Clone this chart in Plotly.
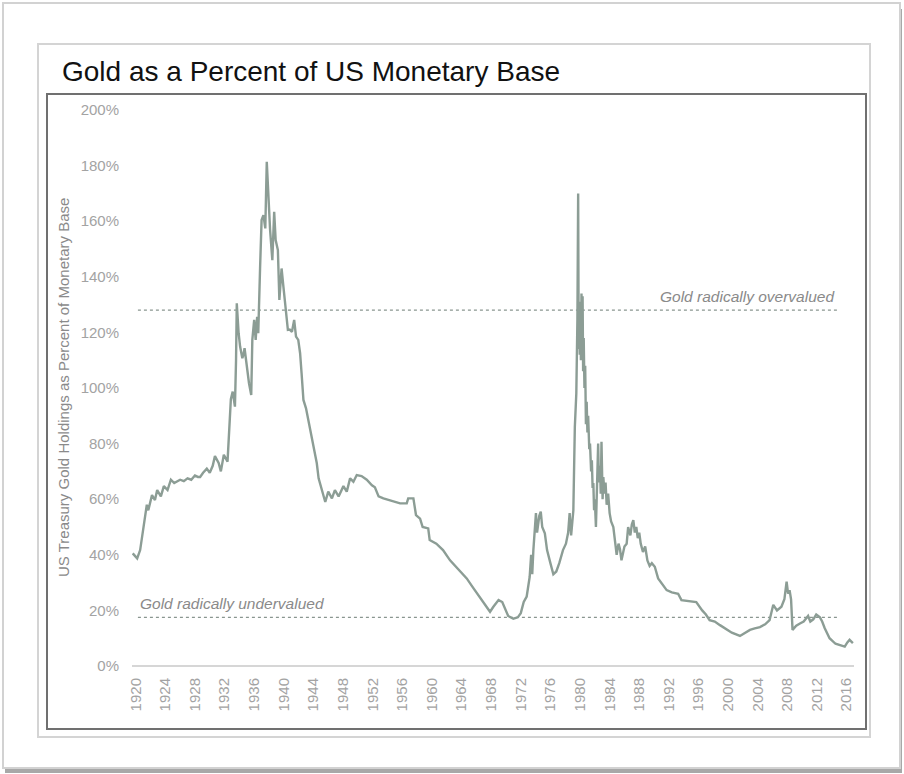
import plotly.graph_objects as go

# US Treasury gold holdings as a percent of the monetary base
years = [
    1919.6, 1919.9, 1920.2, 1920.6, 1921.05, 1921.5, 1921.7, 1922.2, 1922.6, 1922.9,
    1923.4, 1923.8, 1924.3, 1924.75, 1925.2, 1925.6, 1926.0, 1926.5, 1927.0, 1927.5,
    1928.0, 1928.4, 1928.7, 1929.1, 1929.6, 1930.0, 1930.4, 1930.7, 1931.2, 1931.5,
    1931.9, 1932.4, 1932.55, 1932.7, 1932.85, 1933.1, 1933.4, 1933.55, 1933.65, 1933.9,
    1934.1, 1934.4, 1934.55, 1934.7, 1935.0, 1935.3, 1935.6, 1935.75, 1936.0, 1936.2,
    1936.4, 1936.55, 1936.8, 1937.0, 1937.25, 1937.5, 1937.7, 1937.9, 1938.15, 1938.45,
    1938.7, 1938.9, 1939.2, 1939.4, 1939.7, 1939.95, 1940.2, 1940.55, 1940.8, 1941.1,
    1941.4, 1941.65, 1941.95, 1942.2, 1942.4, 1942.65, 1943.0, 1943.55, 1944.0, 1944.45,
    1944.7, 1945.1, 1945.6, 1946.0, 1946.5, 1946.9, 1947.4, 1948.05, 1948.5, 1948.95,
    1949.4, 1949.85, 1950.5, 1951.2, 1951.9, 1952.3, 1952.8, 1953.45, 1954.35, 1955.7,
    1956.6, 1956.8, 1957.5, 1957.85, 1958.4, 1958.75, 1959.5, 1959.7, 1960.6, 1961.5,
    1962.45, 1963.55, 1964.7, 1965.6, 1966.7, 1967.4, 1967.85, 1968.3, 1969.0, 1969.5,
    1970.0, 1970.3, 1971.0, 1971.6, 1972.0, 1972.4, 1972.8, 1973.2, 1973.4, 1973.55,
    1973.7, 1974.05, 1974.2, 1974.35, 1974.5, 1974.7, 1974.9, 1975.25, 1975.55, 1976.0,
    1976.4, 1976.8, 1977.2, 1977.7, 1978.1, 1978.4, 1978.6, 1978.8, 1979.1, 1979.3,
    1979.5, 1979.65, 1979.75, 1979.82, 1979.9, 1979.97, 1980.05, 1980.12, 1980.2, 1980.27,
    1980.35, 1980.42, 1980.5, 1980.6, 1980.7, 1980.8, 1980.9, 1981.0, 1981.1, 1981.25,
    1981.35, 1981.5, 1981.6, 1981.7, 1981.8, 1981.9, 1982.0, 1982.15, 1982.3, 1982.45,
    1982.55, 1982.7, 1982.8, 1982.9, 1983.05, 1983.15, 1983.3, 1983.45, 1983.6, 1983.8,
    1984.0, 1984.2, 1984.5, 1984.7, 1984.95, 1985.2, 1985.4, 1985.6, 1985.8, 1986.0,
    1986.3, 1986.5, 1986.8, 1987.0, 1987.2, 1987.4, 1987.6, 1987.8, 1988.0, 1988.2,
    1988.5, 1988.8, 1989.1, 1989.4, 1989.7, 1990.1, 1990.55, 1991.0, 1991.7, 1992.4,
    1993.25, 1993.7, 1994.5, 1995.7, 1996.5, 1997.0, 1997.5, 1998.2, 1998.9, 1999.8,
    2000.5, 2001.6, 2002.3, 2002.95, 2003.6, 2004.3, 2005.0, 2005.6, 2006.1, 2006.6,
    2007.2, 2007.6, 2007.9, 2008.1, 2008.3, 2008.5, 2008.7, 2009.2, 2009.7, 2010.2,
    2010.8, 2011.1, 2011.5, 2011.9, 2012.4, 2012.7, 2013.05, 2013.7, 2014.5, 2015.1,
    2015.75, 2016.1, 2016.4, 2016.85,
]
gold_pct = [
    40.5, 39.5, 38.7, 41.7, 50, 58, 56, 61.5, 59.7, 63.3,
    61, 64.7, 63.3, 67, 65.8, 66.5, 67, 66.5, 67.5, 67,
    68.5, 68, 68, 69.5, 71, 69.5, 72, 75.5, 73, 70,
    76, 73.5, 81, 90, 96, 98.7, 93.3, 110, 130.5, 119.7,
    114.9, 110.7, 112, 114.3, 107.7, 101.7, 97.5, 117.3, 124.5, 117.3,
    125.6, 119.7, 143.6, 160.4, 162.2, 157.4, 181.4, 167.6, 156.8, 146,
    163.4, 153.2, 149.6, 131.7, 143, 136.4, 129.2, 120.9, 121, 120.2,
    124.5, 118.5, 117.3, 112.5, 105.3, 95.7, 92.7, 85, 79, 73,
    67.5, 63.3, 59, 62.7, 60.3, 63.3, 61, 64.7, 62.7, 67.5,
    66.3, 68.7, 68.3, 67, 65, 64.3, 61, 60.3, 59.5, 58.5,
    58.5, 60.3, 60.3, 54.3, 53, 50, 49.5, 45.3, 44, 41.7,
    38, 35, 31.5, 28, 23.7, 21.3, 19.5, 21.3, 23.7, 23,
    20, 18, 17, 17.5, 19, 23, 25, 32, 40, 33,
    41.7, 55, 48, 51.3, 54, 55.5, 50, 47.7, 41.7, 37,
    33, 34, 37, 41.7, 44, 48, 55, 47, 56, 86,
    98, 125, 170, 114, 128, 112, 131, 110, 134, 119,
    133, 106, 118, 100, 108, 87, 95, 84, 90, 78,
    80, 70, 74, 64, 65.8, 56, 60, 50, 65, 80,
    66, 72, 62, 80.7, 60, 68, 62, 66, 58, 62,
    55, 52, 50, 46, 40, 44, 42, 38, 40.5, 43,
    44, 50, 47, 51, 52.5, 48, 50, 46, 48, 44,
    41, 43, 38, 36, 37, 35.7, 31.5, 30, 27.3, 26.5,
    26, 23.7, 23.5, 23, 20, 18.5, 16.5, 16, 14.7, 13,
    12, 10.8, 12, 13, 13.5, 14, 15, 16.5, 22, 20,
    21.3, 24, 30.3, 26, 27.3, 24, 13, 14.5, 15.3, 16,
    18, 16, 16.8, 18.5, 17.5, 16, 13.6, 10, 8, 7.5,
    7, 8.5, 9.4, 8.2,
]

x_ticks = list(range(1920, 2017, 4))
y_ticks = list(range(0, 201, 20))
y_tick_text = [f"{v}%" for v in y_ticks]

overvalued_level = 128
undervalued_level = 17.5
band_start, band_end = 1920.3, 2014.7

LINE_COLOR = "#8c9d95"
DOT_COLOR = "#8a9690"
TEXT_GREY = "#8a8a8a"
TICK_GREY = "#a3a3a3"

W, H = 904, 774
PL, PR, PT, PB = 132, 854, 110, 666  # plot area in page pixels


def px(xp):
    return (xp - PL) / (PR - PL)


def py(yp):
    return (PB - yp) / (PB - PT)


fig = go.Figure()
fig.add_trace(go.Scatter(
    x=years, y=gold_pct, mode="lines",
    line=dict(color=LINE_COLOR, width=2.4),
    hoverinfo="skip", showlegend=False,
))

shapes = [
    # page card with soft shadow
    dict(type="rect", xref="paper", yref="paper", x0=px(5), x1=px(902), y0=py(9), y1=py(773),
         line=dict(width=0), fillcolor="#a8a8a8", layer="below"),
    dict(type="rect", xref="paper", yref="paper", x0=px(3), x1=px(900), y0=py(3), y1=py(768),
         line=dict(color="#d2d2d2", width=2), fillcolor="white", layer="below"),
    # inner panel
    dict(type="rect", xref="paper", yref="paper", x0=px(38), x1=px(870), y0=py(44), y1=py(737),
         line=dict(color="#d4d4d4", width=2), fillcolor="white", layer="below"),
    # chart frame
    dict(type="rect", xref="paper", yref="paper", x0=px(47), x1=px(866), y0=py(94), y1=py(729),
         line=dict(color="#707070", width=2), fillcolor="rgba(0,0,0,0)", layer="below"),
    # 0% baseline
    dict(type="line", xref="paper", yref="paper", x0=0, x1=1, y0=0, y1=0,
         line=dict(color="#d6d6d6", width=2), layer="below"),
    # valuation thresholds
    dict(type="line", xref="x", yref="y", x0=band_start, x1=band_end,
         y0=overvalued_level, y1=overvalued_level,
         line=dict(color=DOT_COLOR, width=1.2, dash="dot"), layer="below"),
    dict(type="line", xref="x", yref="y", x0=band_start, x1=band_end,
         y0=undervalued_level, y1=undervalued_level,
         line=dict(color=DOT_COLOR, width=1.2, dash="dot"), layer="below"),
]

annotations = [
    dict(text="Gold as a Percent of US Monetary Base", xref="paper", yref="paper",
         x=px(60), y=py(72), xanchor="left", yanchor="middle", showarrow=False,
         font=dict(family="Liberation Sans, Arial, sans-serif", size=28, color="#111111")),
    dict(text="US Treasury Gold Holdings as Percent of Monetary Base", xref="paper", yref="paper",
         x=px(63), y=py(388), xanchor="center", yanchor="middle", textangle=-90, showarrow=False,
         font=dict(family="Liberation Sans, Arial, sans-serif", size=15, color=TEXT_GREY)),
    dict(text="<i>Gold radically overvalued</i>", xref="x", yref="y",
         x=band_end, y=overvalued_level, xanchor="right", yanchor="bottom", yshift=3,
         showarrow=False,
         font=dict(family="Liberation Sans, Arial, sans-serif", size=15.5, color=TEXT_GREY)),
    dict(text="<i>Gold radically undervalued</i>", xref="x", yref="y",
         x=band_start, y=undervalued_level, xanchor="left", yanchor="bottom", yshift=3,
         showarrow=False,
         font=dict(family="Liberation Sans, Arial, sans-serif", size=15.5, color=TEXT_GREY)),
]

fig.update_layout(
    width=W, height=H,
    margin=dict(l=PL, r=W - PR, t=PT, b=H - PB, pad=0),
    paper_bgcolor="white", plot_bgcolor="rgba(0,0,0,0)",
    shapes=shapes, annotations=annotations, showlegend=False,
    xaxis=dict(
        range=[1919.5, 2017.0], tickmode="array", tickvals=x_ticks,
        ticktext=[str(t) for t in x_ticks], tickangle=-90,
        showgrid=False, zeroline=False, showline=False, ticks="",
        ticklabelstandoff=8,
        tickfont=dict(family="Liberation Sans, Arial, sans-serif", size=15, color=TICK_GREY),
    ),
    yaxis=dict(
        range=[0, 200], tickmode="array", tickvals=y_ticks, ticktext=y_tick_text,
        showgrid=False, zeroline=False, showline=False, ticks="",
        ticklabelstandoff=12,
        tickfont=dict(family="Liberation Sans, Arial, sans-serif", size=15, color=TICK_GREY),
    ),
)

fig.write_html("out.html")
